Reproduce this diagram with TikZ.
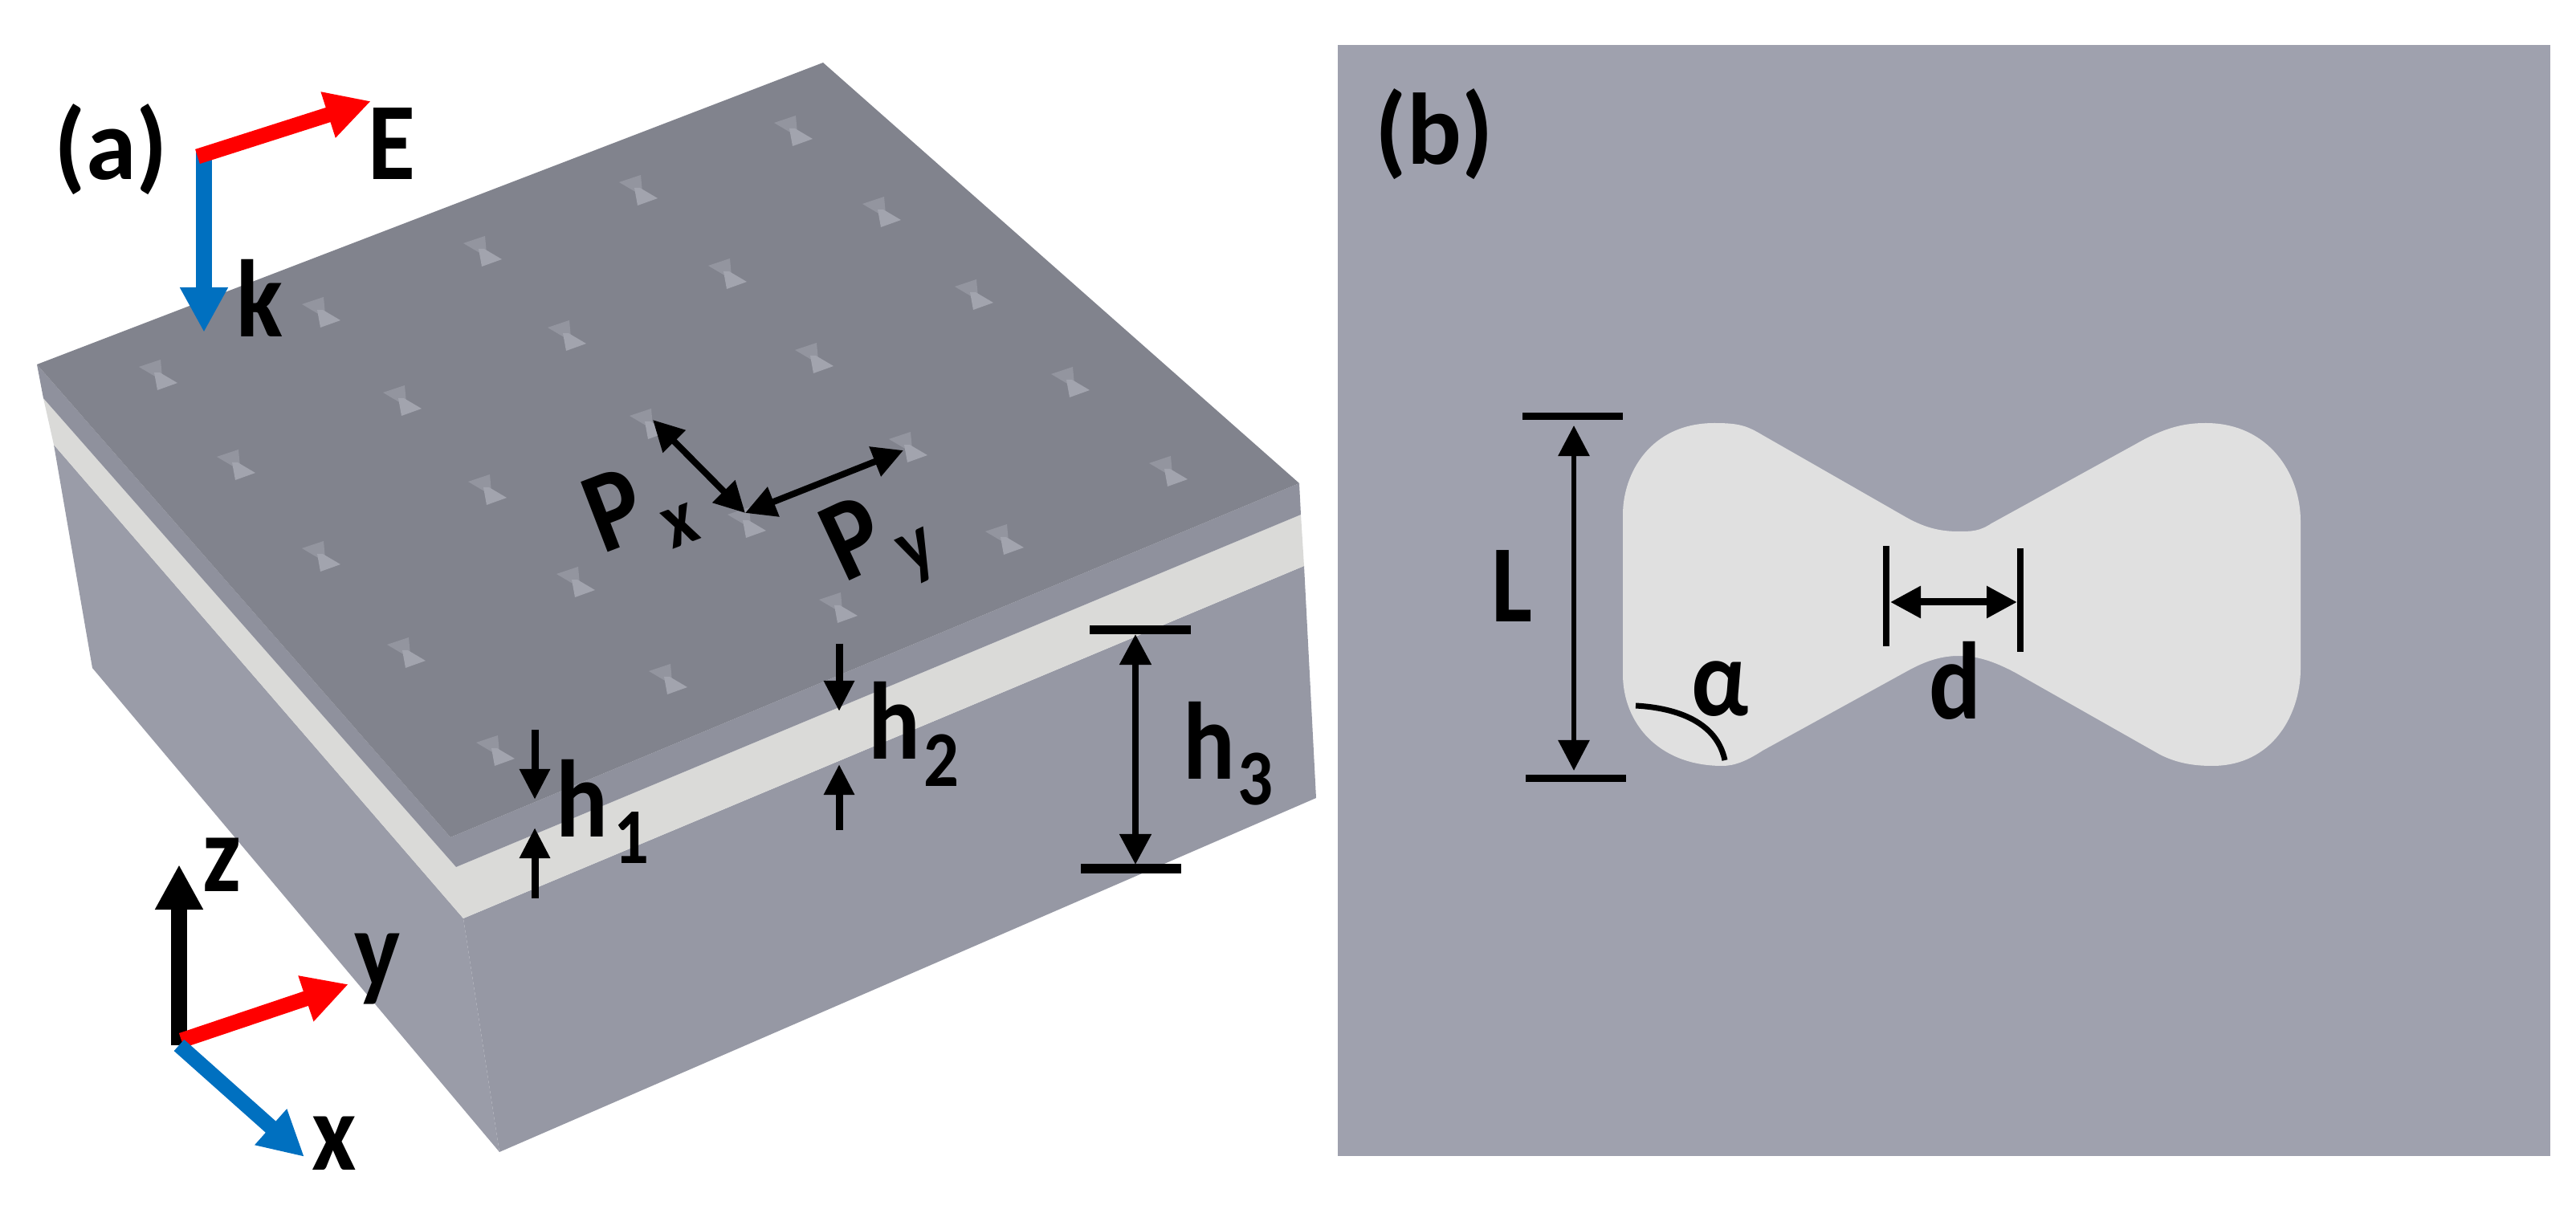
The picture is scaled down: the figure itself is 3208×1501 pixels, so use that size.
\documentclass[tikz,border=0pt]{standalone}
\usepackage{fontspec}
\setmainfont{Carlito}
\newfontfamily\narrowfont[FakeStretch=0.88]{Carlito}
\usetikzlibrary{arrows.meta}

\definecolor{topgray}{HTML}{81838D}
\definecolor{sidegray}{HTML}{8F919D}
\definecolor{leftgray}{HTML}{9A9CA8}
\definecolor{rightgray}{HTML}{9698A4}
\definecolor{layerwhite}{HTML}{DADAD8}
\definecolor{panelgray}{HTML}{9FA1AE}
\definecolor{slotwhite}{HTML}{E0E0E0}
\definecolor{fieldblue}{HTML}{0070C0}
\definecolor{slotdark}{HTML}{93959F}
\definecolor{slotlight}{HTML}{A2A4AE}

\begin{document}
\begin{tikzpicture}[x=0.01cm, y=-0.01cm,
	lbl/.style={inner sep=0pt, anchor=base west, font=\narrowfont\bfseries\fontsize{39}{39}\selectfont},
	panellbl/.style={inner sep=0pt, anchor=base west, font=\bfseries\fontsize{36}{36}\selectfont},
	sublbl/.style={inner sep=0pt, font=\narrowfont\bfseries\fontsize{28}{28}\selectfont},
	bigarrow/.style={line width=0.19cm, -{Triangle[length=0.56cm, width=0.56cm]}},
	dimarrow/.style={line width=0.08cm, {Triangle[length=0.38cm, width=0.38cm]}-{Triangle[length=0.38cm, width=0.38cm]}},
	gaparrow/.style={line width=0.09cm, -{Triangle[length=0.38cm, width=0.36cm]}},
	bar/.style={line width=0.11cm},
	slot/.pic={
		\fill[slotdark] (-23,-10) -- (4,-19) -- (6,3) -- (-1,3) -- cycle;
		\fill[slotlight] (25,10) -- (0,19) -- (-4,-3) -- (3,-3) -- cycle;
	}]
	\useasboundingbox (0,0) rectangle (3208,1501);

	% slab, side faces first
	\fill[leftgray] (67,554) -- (577,1144) -- (622,1435) -- (115,832) -- cycle;
	\fill[rightgray] (577,1144) -- (1624,705) -- (1639,994) -- (622,1435) -- cycle;
	\fill[layerwhite] (54,496) -- (568,1080) -- (1620,641) -- (1624,705) -- (577,1144) -- (67,554) -- cycle;
	\fill[sidegray] (46,454) -- (561,1043) -- (1618,602) -- (1620,641) -- (568,1080) -- (54,496) -- cycle;
	\fill[topgray] (46,454) -- (1025,78) -- (1618,602) -- (561,1043) -- cycle;

	% slots on the top face
	\foreach \px/\py in {987/163, 794/237, 600/313, 399/389, 196/467,
		1097/264, 905/341, 705/418, 500/499, 293/579,
		1212/367, 1013/446, 807/528, 606/610, 399/693,
		1332/476, 1130/557, 929/651, 716/725, 505/813,
		1454/587, 1250/672, 1043/757, 831/846, 616/935}
		\pic at (\px,\py) {slot};

	\node[panellbl] (labela) at (67,224) {(a)};
	\node[lbl] (labelE) at (458,224) {E};
	\node[lbl] (labelk) at (294,420) {k};

	\coordinate (origin) at (246,195);
	\coordinate (Etip) at (462,126);
	\coordinate (ktop) at (254,190);
	\coordinate (ktip) at (254,414);
	\draw[bigarrow, fieldblue] (ktop) -- (ktip);
	\draw[bigarrow, red] (origin) -- (Etip);

	% periods
	\coordinate (pxa) at (813,523);
	\coordinate (pxb) at (928,639);
	\coordinate (pyb) at (1125,561);
	\draw[dimarrow] (pxa) -- (pxb);
	\draw[dimarrow] (pxb) -- (pyb);
	\node[inner sep=0pt, rotate=21, font=\narrowfont\bfseries\fontsize{41}{41}\selectfont] (Px) at (765,635) {P};
	\node[sublbl, rotate=21] (Pxsub) at (848,655) {x};
	\node[inner sep=0pt, rotate=25, font=\narrowfont\bfseries\fontsize{41}{41}\selectfont] (Py) at (1062,670) {P};
	\node[sublbl, rotate=25] (Pysub) at (1145,693) {y};

	% layer heights
	\coordinate (honea) at (666,909);
	\coordinate (honeb) at (666,996);
	\coordinate (honec) at (666,1119);
	\coordinate (honed) at (666,1031);
	\draw[gaparrow] (honea) -- (honeb);
	\draw[gaparrow] (honec) -- (honed);
	\node[lbl] (hone) at (692,1043) {h};
	\node[sublbl, anchor=base west] (honesub) at (764,1076) {1};

	\coordinate (htwoa) at (1045,802);
	\coordinate (htwob) at (1045,886);
	\coordinate (htwoc) at (1045,1034);
	\coordinate (htwod) at (1045,952);
	\draw[gaparrow] (htwoa) -- (htwob);
	\draw[gaparrow] (htwoc) -- (htwod);
	\node[lbl] (htwo) at (1081,946) {h};
	\node[sublbl, anchor=base west] (htwosub) at (1150,980) {2};

	\coordinate (hthreea) at (1357,785);
	\coordinate (hthreeb) at (1483,785);
	\coordinate (hthreec) at (1346,1082);
	\coordinate (hthreed) at (1471,1082);
	\coordinate (hthreee) at (1414,790);
	\coordinate (hthreef) at (1414,1077);
	\draw[bar] (hthreea) -- (hthreeb);
	\draw[bar] (hthreec) -- (hthreed);
	\draw[dimarrow] (hthreee) -- (hthreef);
	\node[lbl] (hthree) at (1473,971) {h};
	\node[sublbl, anchor=base west] (hthreesub) at (1541,1003) {3};

	% axes
	\coordinate (axo) at (223,1302);
	\coordinate (axz) at (223,1077);
	\coordinate (axyo) at (226,1296);
	\coordinate (axy) at (434,1226);
	\coordinate (axx) at (379,1441);
	\draw[bigarrow, black] (axo) -- (axz);
	\draw[bigarrow, red] (axyo) -- (axy);
	\draw[bigarrow, fieldblue] (axo) -- (axx);
	\node[lbl] (labelz) at (252,1111) {z};
	\node[lbl] (labely) at (441,1230) {y};
	\node[lbl] (labelx) at (388,1458) {x};

	% panel b
	\fill[panelgray] (1666,56) rectangle (3176,1440);
	\fill[slotwhite] (2021,641) .. controls (2021,590) and (2055,527) .. (2135,527)
		.. controls (2165,527) and (2175,530) .. (2195,542) -- (2375,645)
		.. controls (2400,659) and (2420,662) .. (2439,662)
		.. controls (2455,662) and (2465,662) .. (2480,652) -- (2660,553)
		.. controls (2700,530) and (2725,527) .. (2747,527)
		.. controls (2825,527) and (2865,590) .. (2865,649) -- (2865,833)
		.. controls (2865,890) and (2830,954) .. (2755,954)
		.. controls (2730,954) and (2710,950) .. (2690,940) -- (2510,838)
		.. controls (2480,822) and (2460,817) .. (2439,817)
		.. controls (2420,817) and (2400,822) .. (2375,836) -- (2195,935)
		.. controls (2175,948) and (2160,954) .. (2145,954)
		.. controls (2065,954) and (2021,900) .. (2021,840) -- cycle;
	\node[panellbl] (labelb) at (1712,205) {(b)};

	\coordinate (Lbara) at (1896,519);
	\coordinate (Lbarb) at (2021,519);
	\coordinate (Lbarc) at (1900,970);
	\coordinate (Lbard) at (2025,970);
	\coordinate (Lup) at (1960,530);
	\coordinate (Ldown) at (1960,960);
	\draw[bar, line width=0.09cm] (Lbara) -- (Lbarb);
	\draw[bar, line width=0.09cm] (Lbarc) -- (Lbard);
	\draw[dimarrow, line width=0.06cm] (Lup) -- (Ldown);
	\node[lbl] (labelL) at (1857,775) {L};

	\coordinate (dbara) at (2349,680);
	\coordinate (dbarb) at (2349,805);
	\coordinate (dbarc) at (2516,683);
	\coordinate (dbard) at (2516,812);
	\coordinate (dleft) at (2354,750);
	\coordinate (dright) at (2512,750);
	\draw[bar, line width=0.08cm] (dbara) -- (dbarb);
	\draw[bar, line width=0.08cm] (dbarc) -- (dbard);
	\draw[dimarrow, line width=0.09cm] (dleft) -- (dright);
	\node[lbl] (labeld) at (2402,896) {d};

	\coordinate (arca) at (2037,879);
	\coordinate (arcb) at (2148,947);
	\draw[line width=0.07cm] (arca) .. controls (2090,882) and (2138,900) .. (arcb);
	\node[lbl] (labelalpha) at (2106,892) {α};
\end{tikzpicture}
\end{document}
